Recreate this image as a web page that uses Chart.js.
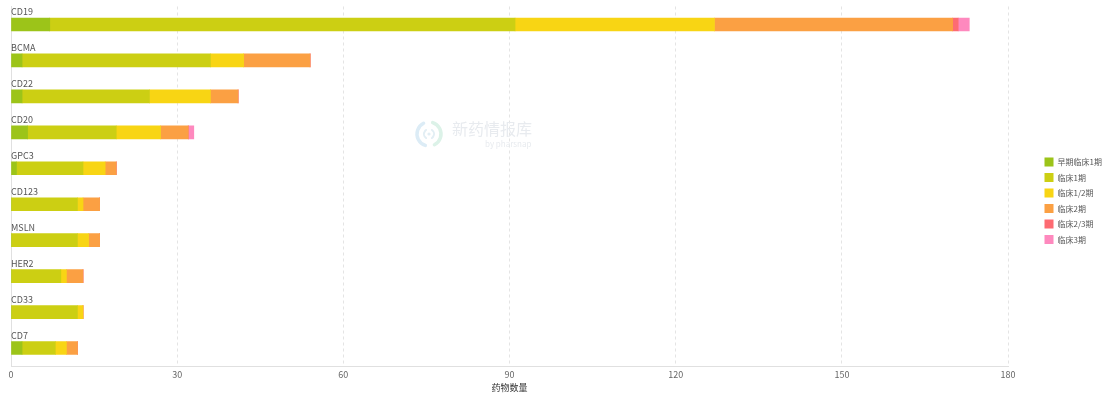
<!DOCTYPE html>
<html>
<head>
<meta charset="utf-8">
<script src="https://cdn.jsdelivr.net/npm/chart.js@4/dist/chart.umd.min.js"></script>
<style>
  html, body { margin: 0; padding: 0; background: #fff; }
  .wrap { width: 1103px; height: 398px; position: relative; }
</style>
</head>
<body>
<div class="wrap"><canvas id="targetChart"></canvas></div>
<script>
  // targets and drug counts per clinical stage
  const categories = ['CD19', 'BCMA', 'CD22', 'CD20', 'GPC3', 'CD123', 'MSLN', 'HER2', 'CD33', 'CD7'];
  const early1  = [7, 2, 2, 3, 1, 0, 0, 0, 0, 2];
  const phase1  = [84, 34, 23, 16, 12, 12, 12, 9, 12, 6];
  const phase12 = [36, 6, 11, 8, 4, 1, 2, 1, 1, 2];
  const phase2  = [43, 12, 5, 5, 2, 3, 2, 3, 0, 2];
  const phase23 = [1, 0, 0, 0, 0, 0, 0, 0, 0, 0];
  const phase3  = [2, 0, 0, 1, 0, 0, 0, 0, 0, 0];
  const stageNames = ['早期临床1期', '临床1期', '临床1/2期', '临床2期', '临床2/3期', '临床3期'];
  const stageColors = ['#9cc419', '#cccf13', '#f8d514', '#fba043', '#fd6b72', '#fe89be'];
  const xTicks = [0, 30, 60, 90, 120, 150, 180];

  const FONT = '"Noto Sans CJK SC", "Noto Sans", sans-serif';
  Chart.defaults.font.family = FONT;
  Chart.defaults.font.size = 9;
  Chart.defaults.color = '#666';

  const seriesData = [early1, phase1, phase12, phase2, phase23, phase3];
  const datasets = seriesData.map(function (d, i) {
    return {
      label: stageNames[i],
      data: d,
      backgroundColor: stageColors[i],
      borderWidth: 0,
      barThickness: 13
    };
  });

  // category names sit above each bar instead of on the y axis
  const barLabels = {
    id: 'barLabels',
    afterDatasetsDraw(chart) {
      const ctx = chart.ctx;
      const meta = chart.getDatasetMeta(0);
      ctx.save();
      ctx.font = '9px ' + FONT;
      ctx.fillStyle = '#555';
      ctx.textAlign = 'left';
      ctx.textBaseline = 'alphabetic';
      meta.data.forEach(function (bar, i) {
        ctx.fillText(categories[i], chart.chartArea.left, bar.y - 6.5 - 3);
      });
      ctx.restore();
    }
  };

  // keep a gap between the plot and the legend column
  const legendGap = {
    id: 'legendGap',
    afterLayout(chart) {
      const lg = chart.legend;
      const w = lg.right - lg.left;
      lg.left = chart.width - 65;
      lg.right = lg.left + w;
      lg.top += 1.5;
      lg.bottom += 1.5;
    }
  };

  // faint brand mark in the middle of the plot
  const watermark = {
    id: 'watermark',
    beforeDatasetsDraw(chart) {
      const ctx = chart.ctx;
      ctx.save();
      const cx = 429, cy = 134, r = 12;
      ctx.lineWidth = 3.5;
      ctx.lineCap = 'round';
      ctx.strokeStyle = '#dcecf6';
      ctx.beginPath();
      ctx.arc(cx, cy, r, Math.PI * 0.6, Math.PI * 1.35);
      ctx.stroke();
      ctx.strokeStyle = '#dcf2e8';
      ctx.beginPath();
      ctx.arc(cx, cy, r, Math.PI * 1.6, Math.PI * 2.35);
      ctx.stroke();
      ctx.lineWidth = 2;
      ctx.strokeStyle = '#e2eef4';
      ctx.beginPath();
      ctx.arc(cx, cy, 5, Math.PI * 0.7, Math.PI * 1.3);
      ctx.stroke();
      ctx.beginPath();
      ctx.arc(cx, cy, 5, Math.PI * 1.7, Math.PI * 2.3);
      ctx.stroke();
      ctx.fillStyle = '#e2eef4';
      ctx.beginPath();
      ctx.arc(cx, cy, 1.6, 0, Math.PI * 2);
      ctx.fill();
      ctx.fillStyle = '#e8ebef';
      ctx.font = '16px ' + FONT;
      ctx.textBaseline = 'middle';
      ctx.fillText('新药情报库', 452, 129);
      ctx.font = '8px ' + FONT;
      ctx.fillText('by pharsnap', 485, 144);
      ctx.restore();
    }
  };

  new Chart(document.getElementById('targetChart'), {
    type: 'bar',
    data: { labels: categories, datasets: datasets },
    options: {
      indexAxis: 'y',
      responsive: true,
      maintainAspectRatio: false,
      animation: false,
      layout: { padding: { left: 3, top: 6.5, right: 21, bottom: 6 } },
      scales: {
        x: {
          stacked: true,
          min: 0,
          max: 180,
          afterBuildTicks(axis) {
            axis.ticks = xTicks.map(function (v) { return { value: v }; });
          },
          grid: {
            color: '#e4e4e4',
            drawTicks: false,
            tickLength: 0
          },
          border: { display: true, color: '#e0e0e0', dash: [3, 3] },
          ticks: { padding: 4, color: '#666', font: { size: 9, lineHeight: 1 } },
          title: {
            display: true,
            text: '药物数量',
            color: '#333',
            font: { size: 9, lineHeight: 1 },
            padding: { top: 0, bottom: 0 }
          }
        },
        y: {
          stacked: true,
          grid: { display: false },
          border: { display: true, color: '#e0e0e0' },
          ticks: { display: false }
        }
      },
      plugins: {
        legend: {
          position: 'right',
          align: 'center',
          labels: {
            boxWidth: 9,
            boxHeight: 9,
            padding: 6.5,
            color: '#555',
            font: { size: 8 }
          }
        },
        tooltip: { enabled: false }
      }
    },
    plugins: [watermark, barLabels, legendGap]
  });
</script>
</body>
</html>
